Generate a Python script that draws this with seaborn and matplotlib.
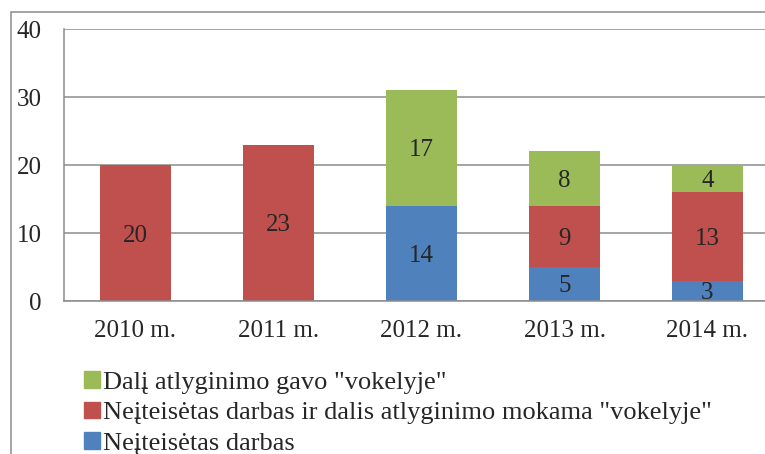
import matplotlib
matplotlib.use("Agg")
import matplotlib.pyplot as plt
from matplotlib.patches import Patch, Rectangle
import seaborn as sns
import pandas as pd
import numpy as np

# data (bottom to top of each stack)
years = ["2010 m.", "2011 m.", "2012 m.", "2013 m.", "2014 m."]
neiteisetas = [0, 0, 14, 5, 3]
neiteisetas_vokelyje = [20, 23, 0, 9, 13]
dalis_vokelyje = [0, 0, 17, 8, 4]

labels = [
    'Dalį atlyginimo gavo "vokelyje"',
    'Neįteisėtas darbas ir dalis atlyginimo mokama "vokelyje"',
    'Neįteisėtas darbas',
]
green, red, blue = "#9BBB59", "#C0504D", "#4F81BD"
grey = "#8C8C8C"

sns.set_style("white")
plt.rcParams["font.family"] = ["Liberation Serif", "DejaVu Serif"]

df = pd.DataFrame({
    "year": years,
    "blue": neiteisetas,
    "red": neiteisetas_vokelyje,
    "green": dalis_vokelyje,
})
df["top_red"] = df["blue"] + df["red"]
df["top_green"] = df["top_red"] + df["green"]

fig = plt.figure(figsize=(7.65, 4.54), dpi=100)
ax = fig.add_axes([64 / 765, 153 / 454, 715 / 765, 272 / 454])

# stacked look: draw cumulative totals, tallest first
for col, c in [("top_green", green), ("top_red", red), ("blue", blue)]:
    sns.barplot(data=df, x="year", y=col, color=c, width=0.5, saturation=1,
                errorbar=None, linewidth=0, ax=ax)

# segment labels
for i in range(len(years)):
    bottom = 0
    for v in (neiteisetas[i], neiteisetas_vokelyje[i], dalis_vokelyje[i]):
        if v > 0:
            ax.text(i, bottom + v / 2, str(v), ha="center", va="center_baseline", fontsize=18)
        bottom += v

ax.set_xlabel("")
ax.set_ylabel("")
ax.set_ylim(0, 40)
ax.set_xlim(-0.5, len(years) - 0.5)
ax.set_yticks(range(0, 41, 10))
ax.set_xticks(np.arange(len(years) + 1) - 0.5)
ax.set_xticklabels([])
ax.set_xticks(range(len(years)), years, minor=True)
ax.tick_params(axis="x", which="minor", length=0, pad=14, labelsize=18)
ax.tick_params(axis="x", which="major", length=5, width=1, color=grey)
ax.tick_params(axis="y", length=5, width=1, color=grey, pad=11, labelsize=18)

ax.yaxis.grid(True, color=grey, linewidth=1.1)
ax.set_axisbelow(True)
for s in ["top", "right"]:
    ax.spines[s].set_visible(False)
for s in ["left", "bottom"]:
    ax.spines[s].set_color(grey)
    ax.spines[s].set_linewidth(1.1)

handles = [Patch(color=c) for c in (green, red, blue)]
fig.legend(handles, labels, loc="upper left", bbox_to_anchor=(84 / 765, 1 - 371 / 454),
           frameon=False, fontsize=19, handlelength=0.6, handleheight=0.6,
           handletextpad=0.12, labelspacing=0.3, borderpad=0, borderaxespad=0)

# chart area border (cut off at right and bottom in the original)
fig.patches.append(Rectangle((11 / 765, -0.1), 1.2, 1.1 - 12 / 454, transform=fig.transFigure,
                             fill=False, edgecolor=grey, linewidth=1.1))

fig.savefig("out.png", dpi=100)
